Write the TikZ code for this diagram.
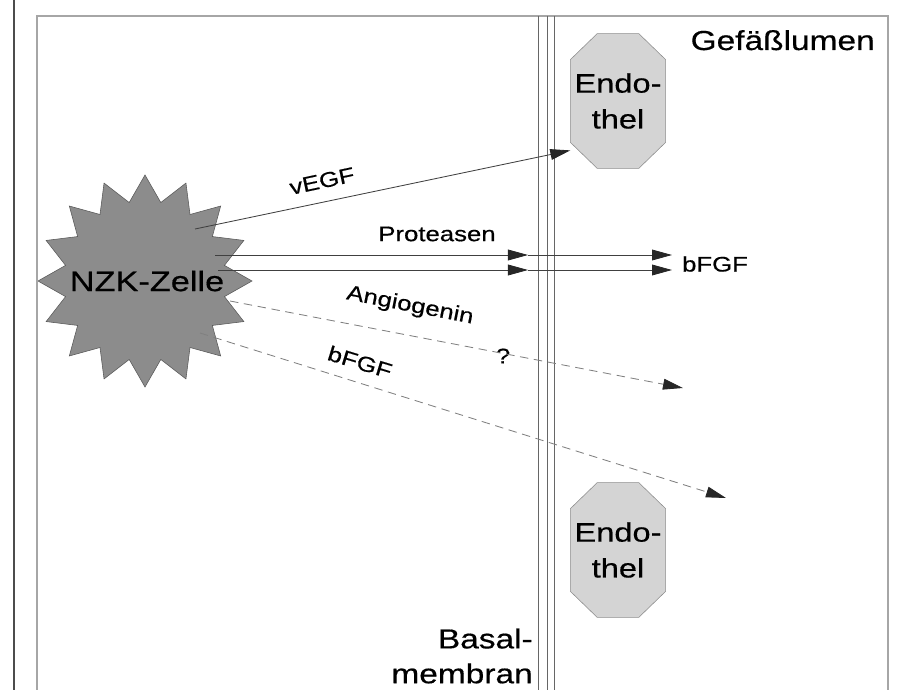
\documentclass[tikz,border=0pt]{standalone}
\usepackage{fontspec}
\setmainfont{Liberation Sans}[FakeStretch=1.22, FakeBold=0.5]
\usetikzlibrary{arrows.meta,backgrounds}

\begin{document}
\begin{tikzpicture}[x=0.025cm, y=-0.025cm,
    >={Triangle[length=0.5cm, width=0.27cm, color=black!85]},
    cell/.style={inner sep=0pt, font=\fontsize{20}{24}\selectfont},
    cellline/.style={draw=black!65, fill=black!45},
    endo/.style={minimum width=2.37cm, minimum height=3.35cm, inner sep=0pt,
      align=center, font=\fontsize{19}{25.5}\selectfont},
    endoline/.style={draw=black!45, fill=black!17},
    lbl/.style={inner sep=0pt, font=\fontsize{15}{18}\selectfont},
    flow/.style={draw=black!75, line width=0.6pt},
    guess/.style={draw=black!50, line width=0.6pt, dash pattern=on 6pt off 4pt}]
\useasboundingbox (0,0) rectangle (916,690);
% frame and basement membrane
\draw[black!70, line width=1.5pt] (14,0) -- (14,690);
\draw[black!35, line width=1pt] (37,690) -- (37,16) -- (888,16) -- (888,690);
\foreach \mx in {538,547,554}
  \draw[black!60, line width=0.6pt] (\mx,16) -- (\mx,690);
\node[cell] (nzk) at (147,281) {NZK-Zelle};
\node[endo] (endo1) at (618,101) {Endo-\\thel};
\node[endo] (endo2) at (618,550) {Endo-\\thel};
\begin{scope}[on background layer]
\draw[cellline] plot[samples at={0,...,31}]
  ({145+(mod(\x,2)==0 ? 107 : 81)*cos(90+11.25*\x)},
   {281-(mod(\x,2)==0 ? 106 : 80)*sin(90+11.25*\x)}) -- cycle;
\foreach \n in {endo1,endo2}
  \draw[endoline] ([xshift=0.67cm]\n.north west) -- ([xshift=-0.67cm]\n.north east)
    -- ([yshift=-0.65cm]\n.north east) -- ([yshift=0.65cm]\n.south east)
    -- ([xshift=-0.67cm]\n.south east) -- ([xshift=0.67cm]\n.south west)
    -- ([yshift=0.65cm]\n.south west) -- ([yshift=-0.65cm]\n.north west) -- cycle;
\end{scope}
\node[lbl, anchor=base east, font=\fontsize{19.5}{22}\selectfont] (lumen) at (875,50) {Gefäßlumen};
\node[lbl, anchor=east, align=right, font=\fontsize{19.5}{24.8}\selectfont] (basal) at (533,656) {Basal-\\membran};
\node[lbl, rotate=12] (vegf) at (322,181) {vEGF};
\node[lbl] (prot) at (437,234) {Proteasen};
\node[lbl] (bfgfout) at (715,264) {bFGF};
\node[lbl, rotate=-11] (angio) at (410,306) {Angiogenin};
\node[lbl] (quest) at (503,356) {?};
\node[lbl, rotate=-17] (bfgfin) at (360,362) {bFGF};
% arrows
\coordinate (vs) at (195,229);
\coordinate (pa) at (215,255);
\coordinate (pb) at (528,255);
\coordinate (pc) at (672,255);
\coordinate (qa) at (218,270);
\coordinate (qb) at (528,270);
\coordinate (qc) at (672,270);
\coordinate (as) at (230,301);
\coordinate (ae) at (683,388);
\coordinate (bs) at (200,333);
\coordinate (be) at (726,498);
\draw[flow, ->] (vs) -- (endo1.226);
\draw[flow, ->] (pa) -- (pb);
\draw[flow, ->] (pb) -- (pc);
\draw[flow, ->] (qa) -- (qb);
\draw[flow, ->] (qb) -- (qc);
\draw[guess, ->] (as) -- (ae);
\draw[guess, ->] (bs) -- (be);
\end{tikzpicture}
\end{document}
